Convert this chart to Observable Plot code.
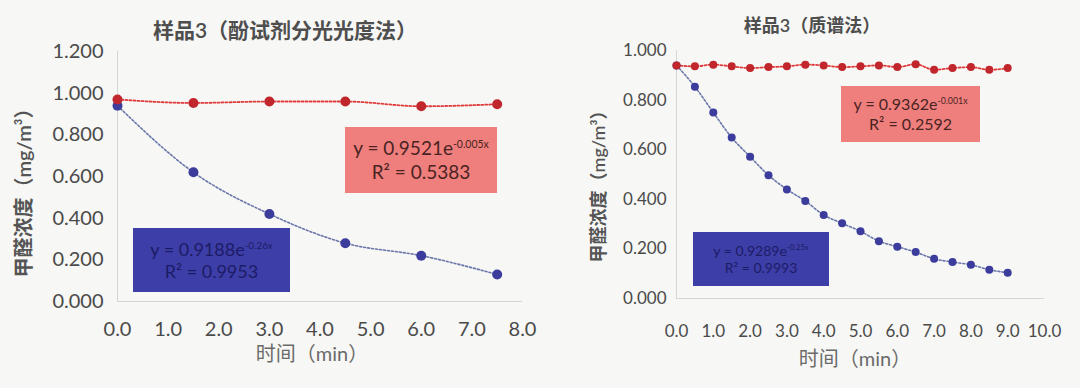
<!DOCTYPE html>
<html><head><meta charset="utf-8">
<script src="https://cdn.jsdelivr.net/npm/d3@7"></script>
<script src="https://cdn.jsdelivr.net/npm/@observablehq/plot@0.6"></script>
<style>
html,body{margin:0;padding:0;background:#f7f7f5;}
#wrap{position:relative;width:1080px;height:388px;overflow:hidden;font-family:Lato,"Noto Sans CJK SC",sans-serif;color:#555;}
.pl{position:absolute;top:0;}
.t{position:absolute;white-space:nowrap;transform:translateX(-50%);}
.yl{position:absolute;white-space:nowrap;transform:translate(-50%,-50%) rotate(-90deg);}
.box{position:absolute;display:flex;flex-direction:column;justify-content:center;align-items:center;line-height:1.25;}
sup{font-size:55%;}
</style></head>
<body><div id="wrap"></div>
<script>
// ---- data ----
const leftTime = [0, 1.5, 3, 4.5, 6, 7.5];
const leftRed  = [0.97, 0.953, 0.96, 0.96, 0.937, 0.947];
const leftBlue = [0.94, 0.62, 0.42, 0.28, 0.22, 0.13];
const leftXTicks = [0,1,2,3,4,5,6,7,8];
const leftYTicks = [0,0.2,0.4,0.6,0.8,1.0,1.2];

const rightTime = [0,0.5,1,1.5,2,2.5,3,3.5,4,4.5,5,5.5,6,6.5,7,7.5,8,8.5,9];
const rightRed  = [0.94,0.936,0.943,0.936,0.929,0.933,0.936,0.943,0.94,0.933,0.936,0.94,0.933,0.945,0.922,0.929,0.933,0.922,0.929];
const rightBlue = [0.94,0.854,0.75,0.649,0.572,0.497,0.44,0.393,0.337,0.303,0.271,0.231,0.209,0.187,0.16,0.147,0.136,0.116,0.104];
const rightXTicks = [0,1,2,3,4,5,6,7,8,9,10];
const rightYTicks = [0,0.2,0.4,0.6,0.8,1.0];

const leftTitle = "样品3（酚试剂分光光度法）";
const rightTitle = "样品3（质谱法）";
const xLabel = "时间（min）";
const yLabel = "甲醛浓度（mg/m³）";
const leftRedEq = ["y = 0.9521e", "-0.005x", "R² = 0.5383"];
const leftBlueEq = ["y = 0.9188e", "-0.26x", "R² = 0.9953"];
const rightRedEq = ["y = 0.9362e", "-0.001x", "R² = 0.2592"];
const rightBlueEq = ["y = 0.9289e", "-0.25x", "R² = 0.9993"];

const leftRows = leftTime.map((t,i)=>({t, red:leftRed[i], blue:leftBlue[i]}));
const rightRows = rightTime.map((t,i)=>({t, red:rightRed[i], blue:rightBlue[i]}));

const RED = "#c0262b", BLUE = "#3b3c9c";
const wrap = document.getElementById("wrap");

function chart(rows, o){
  return Plot.plot({
    width:540, height:388,
    marginLeft:o.ml, marginRight:o.mr, marginTop:o.mt, marginBottom:o.mb,
    style:{background:"transparent", fontFamily:'Lato,"Noto Sans CJK SC",sans-serif', color:"#4a4a4a"},
    x:{domain:o.xd, label:null},
    y:{domain:o.yd, label:null},
    marks:[
      Plot.ruleY([0], {stroke:"#d6d6d6"}),
      Plot.ruleX([0], {stroke:"#d6d6d6"}),
      Plot.axisX({ticks:o.xt, tickFormat:d3.format(".1f"), tickSize:0, tickPadding:o.xpad, fontSize:o.xfs, fill:"#4a4a4a", label:null}),
      Plot.axisY({ticks:o.yt, tickFormat:d3.format(".3f"), tickSize:0, tickPadding:o.ypad, fontSize:o.yfs, fill:"#4a4a4a", label:null}),
      Plot.line(rows, {x:"t", y:"blue", stroke:"#6a76aa", strokeWidth:1.6, strokeDasharray:"2,2", curve:"monotone-x"}),
      Plot.line(rows, {x:"t", y:"red", stroke:"#e03a3a", strokeWidth:1.8, strokeDasharray:"2,2", curve:"monotone-x"}),
      Plot.dot(rows, {x:"t", y:"blue", r:o.r, fill:BLUE, stroke:"none"}),
      Plot.dot(rows, {x:"t", y:"red", r:o.r, fill:RED, stroke:"none"})
    ]
  });
}

const c1 = chart(leftRows, {ml:117, mr:18, mt:51, mb:87, xd:[0,8], yd:[0,1.2], xt:leftXTicks, yt:leftYTicks, xpad:20, ypad:14, xfs:20, yfs:20, r:5});
c1.classList.add("pl"); c1.style.left="0px"; wrap.appendChild(c1);
const c2 = chart(rightRows, {ml:136, mr:36, mt:50, mb:90, xd:[0,10], yd:[0,1], xt:rightXTicks, yt:rightYTicks, xpad:26, ypad:10, xfs:17, yfs:17, r:4});
c2.classList.add("pl"); c2.style.left="540px"; wrap.appendChild(c2);

function txt(cls, s, x, y, fs, extra){
  const d = document.createElement("div");
  d.className = cls; d.textContent = s;
  d.style.left = x+"px"; d.style.top = y+"px"; d.style.fontSize = fs+"px";
  if (extra) Object.assign(d.style, extra);
  wrap.appendChild(d);
}
txt("t", leftTitle, 285, 14, 21, {fontWeight:"600", color:"#4e4e4e"});
txt("t", rightTitle, 812, 11, 18, {fontWeight:"600", color:"#4e4e4e"});
txt("t", xLabel, 312, 338, 20, {color:"#6a6a6a"});
txt("t", xLabel, 855, 343, 20, {color:"#6a6a6a"});
txt("yl", yLabel, 22, 188, 20, {color:"#555", fontWeight:"600"});
txt("yl", yLabel, 597, 182, 18, {color:"#555", fontWeight:"600"});

function box(eq, x, y, w, h, bg, col, fs){
  const d = document.createElement("div");
  d.className = "box";
  Object.assign(d.style, {left:x+"px", top:y+"px", width:w+"px", height:h+"px", background:bg, color:col, fontSize:fs+"px"});
  const l1 = document.createElement("div");
  l1.append(eq[0]);
  const s = document.createElement("sup"); s.textContent = eq[1]; l1.append(s);
  const l2 = document.createElement("div"); l2.textContent = eq[2];
  d.append(l1, l2);
  wrap.appendChild(d);
}
box(leftRedEq, 345, 127, 152, 66, "#ef7f7c", "#4a2323", 19);
box(leftBlueEq, 133, 228, 157, 64, "#3e3ea8", "#1c1c66", 18);
box(rightRedEq, 841, 86, 139, 56, "#ef7f7c", "#4a2323", 16);
box(rightBlueEq, 693, 232, 136, 54, "#3e3ea8", "#1c1c66", 14);
</script></body></html>
